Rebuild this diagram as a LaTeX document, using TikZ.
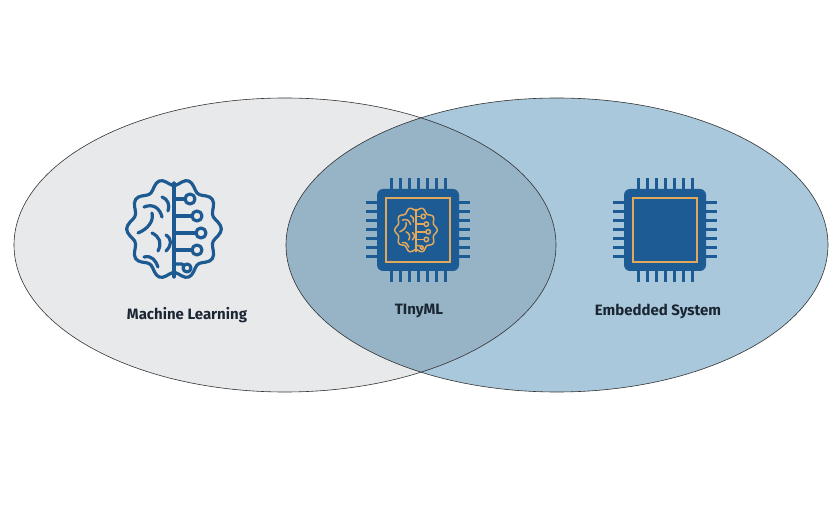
\documentclass[tikz,border=0pt]{standalone}
\usepackage{fontspec}
\setmainfont{Fira Sans}
\usetikzlibrary{shapes.geometric}
\definecolor{leftfill}{HTML}{E8E9EB}
\definecolor{rightfill}{HTML}{A9C8DB}
\definecolor{overfill}{HTML}{97B3C6}
\definecolor{iconblue}{HTML}{1E5A92}
\definecolor{chipblue}{HTML}{1D5B95}
\definecolor{gold}{HTML}{E2A95C}
\definecolor{txt}{HTML}{1B2633}
\tikzset{
  venn/.style={ellipse, minimum width=542pt, minimum height=294pt, inner sep=0pt},
  lab/.style={font=\fontseries{sb}\fontsize{15}{17}\selectfont, text=txt},
}
\newcommand\brainicon[5]{% x y scale color linewidth
\begin{scope}[shift={(#1,#2)}, scale=#3, draw=#4, line width=#5, line cap=round, line join=round]
  \draw plot[smooth cycle, domain=0:356, samples=90, variable=\t]
    ({44*cos(\t)*(1+0.075*cos(10*\t))},{47*sin(\t)*(1+0.075*cos(10*\t))});
  \draw (0,-46) -- (0,48);
  \draw (-30,-22) .. controls (-20,-26) and (-14,-20) .. (-12,-12);
  \draw (-12,-32) .. controls (-6,-30) and (-4,-24) .. (-6,-18);
  \draw (-36,4) .. controls (-26,0) and (-20,-8) .. (-22,-16);
  \draw (-22,4) .. controls (-14,8) and (-12,14) .. (-16,22);
  \draw (-8,6) .. controls (-2,10) and (-2,16) .. (-8,22);
  \draw (-30,28) .. controls (-22,26) and (-18,32) .. (-16,38);
  \draw (0,-30) -- (11,-30); \draw (16,-30) circle (5);
  \draw (0,-13) -- (18,-13); \draw (23,-13) circle (5);
  \draw (0,4) -- (22,4); \draw (27,4) circle (5);
  \draw (0,21) -- (18,21); \draw (23,21) circle (5);
  \draw (0,35) -- (8,35) -- (10,37); \draw (13,39) circle (4);
\end{scope}}
\newcommand\chipicon[3]{% x y name
\begin{scope}[shift={(#1,#2)}]
  \foreach \i in {-3,...,3}{
    \fill[chipblue] (\i*9-1.5,-52) rectangle (\i*9+1.5,-38);
    \fill[chipblue] (\i*9-1.5,52) rectangle (\i*9+1.5,38);
    \fill[chipblue] (-52,\i*9-1.5) rectangle (-38,\i*9+1.5);
    \fill[chipblue] (52,\i*9-1.5) rectangle (38,\i*9+1.5);
  }
  \node[fill=chipblue, rounded corners=6pt, minimum size=82pt, inner sep=0pt] (#3) at (0,0) {};
  \draw[gold, line width=1.8pt] (-32,-32) rectangle (32,32);
\end{scope}}
\begin{document}
\begin{tikzpicture}[x=1pt,y=-1pt]
\useasboundingbox[fill=white] (0,0) rectangle (839,505);
\node[venn, fill=leftfill] (ml) at (285,245) {};
\node[venn, fill=rightfill] (es) at (557,245) {};
\begin{scope}
  \clip (285,245) ellipse [x radius=271pt, y radius=147pt];
  \fill[overfill] (557,245) ellipse [x radius=271pt, y radius=147pt];
\end{scope}
\draw[black!80, line width=0.6pt] (285,245) ellipse [x radius=271pt, y radius=147pt];
\draw[black!80, line width=0.6pt] (557,245) ellipse [x radius=271pt, y radius=147pt];
\brainicon{174}{229}{1}{iconblue}{3.2pt}
\chipicon{418}{230}{chipA}
\brainicon{416}{230}{0.45}{gold}{1.5pt}
\chipicon{665}{230}{chipB}
\node[lab] (tml) at (187,315) {Machine Learning};
\node[lab] (ttiny) at (419,311) {TInyML};
\node[lab] (tes) at (658,311) {Embedded System};
\end{tikzpicture}
\end{document}
